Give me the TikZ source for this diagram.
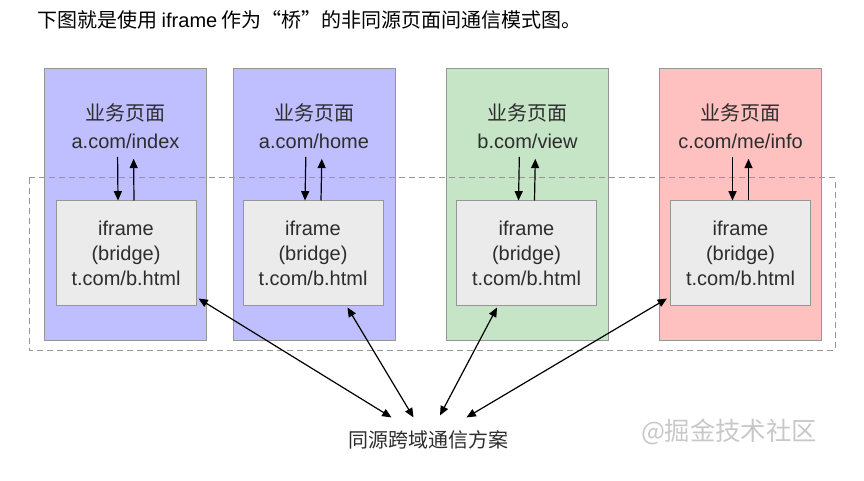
\documentclass[tikz,border=0pt]{standalone}
\usepackage{fontspec}
\setmainfont{Liberation Sans}
\newfontfamily\cjk{Noto Sans CJK SC}
\usetikzlibrary{arrows.meta}

\definecolor{pageblue}{RGB}{191,191,255}
\definecolor{pagegreen}{RGB}{198,229,199}
\definecolor{pagered}{RGB}{255,192,192}
\definecolor{framegray}{RGB}{235,235,235}
\definecolor{edgegray}{RGB}{150,150,150}
\definecolor{txtgray}{RGB}{45,45,45}
\definecolor{markgray}{RGB}{200,200,200}

\tikzset{
  page/.style={draw=edgegray, line width=0.75pt, minimum width=121.5pt, minimum height=203.25pt, inner sep=0pt},
  bridge/.style={draw=edgegray, fill=framegray, line width=0.75pt, minimum width=105pt, minimum height=78pt, inner sep=0pt, align=center, text=txtgray, font=\fontsize{15}{18.75}\selectfont},
  pagelabel/.style={align=center, inner sep=0pt, text=txtgray, font=\fontsize{15}{21}\selectfont},
  msg/.style={-{Triangle[length=7pt,width=6pt]}, line width=0.9pt},
  link/.style={{Triangle[length=7pt,width=6pt]}-{Triangle[length=7pt,width=6pt]}, line width=0.9pt},
}

\begin{document}
\begin{tikzpicture}[x=0.75pt,y=0.75pt,yscale=-1,xscale=1]
\useasboundingbox (0,0) rectangle (864,481);

% Text Node
\node (caption) at (37,20) [anchor=west, inner sep=0pt, font=\cjk\fontsize{15}{18}\selectfont] {下图就是使用 {\rmfamily iframe} 作为“桥”的非同源页面间通信模式图。};

%Shape: Rectangle
\node (p1) at (125.5,204.5) [page, fill=pageblue] {};
\node (p2) at (314,204.5) [page, fill=pageblue] {};
\node (p3) at (527.5,204.5) [page, fill=pagegreen] {};
\node (p4) at (740.5,204.5) [page, fill=pagered] {};

%Shape: Rectangle (dashed)
\draw [edgegray, line width=0.75pt, dash pattern=on 4.5pt off 3pt] (29,178) rectangle (835,350);

% Text Node
\node (l1) at (125.5,126) [pagelabel] {{\cjk 业务页面}\\a.com/index};
\node (l2) at (314,126) [pagelabel] {{\cjk 业务页面}\\a.com/home};
\node (l3) at (527.5,126) [pagelabel] {{\cjk 业务页面}\\b.com/view};
\node (l4) at (740.5,126) [pagelabel] {{\cjk 业务页面}\\c.com/me/info};

%Shape: Rectangle
\node (f1) at (126,253) [bridge] {iframe\\(bridge)\\t.com/b.html};
\node (f2) at (313,253) [bridge] {iframe\\(bridge)\\t.com/b.html};
\node (f3) at (526.5,253) [bridge] {iframe\\(bridge)\\t.com/b.html};
\node (f4) at (740.5,253) [bridge] {iframe\\(bridge)\\t.com/b.html};

%Straight Lines
\draw [msg, shorten <=6pt] ([xshift=-6pt]l1.south) -- ([xshift=-6pt]f1.north);
\draw [msg, shorten >=7.5pt] ([xshift=6pt]f1.north) -- ([xshift=6pt]l1.south);
\draw [msg, shorten <=6pt] ([xshift=-6pt]l2.south) -- ([xshift=-6pt]f2.north);
\draw [msg, shorten >=7.5pt] ([xshift=6pt]f2.north) -- ([xshift=6pt]l2.south);
\draw [msg, shorten <=6pt] ([xshift=-6pt]l3.south) -- ([xshift=-6pt]f3.north);
\draw [msg, shorten >=7.5pt] ([xshift=6pt]f3.north) -- ([xshift=6pt]l3.south);
\draw [msg, shorten <=6pt] ([xshift=-6pt]l4.south) -- ([xshift=-6pt]f4.north);
\draw [msg, shorten >=7.5pt] ([xshift=6pt]f4.north) -- ([xshift=6pt]l4.south);

% Text Node
\node (hub) at (428.5,440) [inner sep=0pt, text=txtgray, font=\cjk\fontsize{15}{18}\selectfont] {同源跨域通信方案};

%Straight Lines
\draw [link] ([shift={(2,-7)}]f1.south east) -- ([shift={(-37,-13)}]hub.north);
\draw [link] ([shift={(-36,2)}]f2.south east) -- ([shift={(-15,-13)}]hub.north);
\draw [link] ([shift={(41,2)}]f3.south west) -- ([shift={(11.5,-15)}]hub.north);
\draw [link] ([shift={(-3,-7)}]f4.south west) -- ([shift={(38,-13)}]hub.north);

% Text Node
\node (mark) at (729,432) [inner sep=0pt, text=markgray, font=\cjk\fontsize{19}{22}\selectfont] {@掘金技术社区};

\end{tikzpicture}
\end{document}
